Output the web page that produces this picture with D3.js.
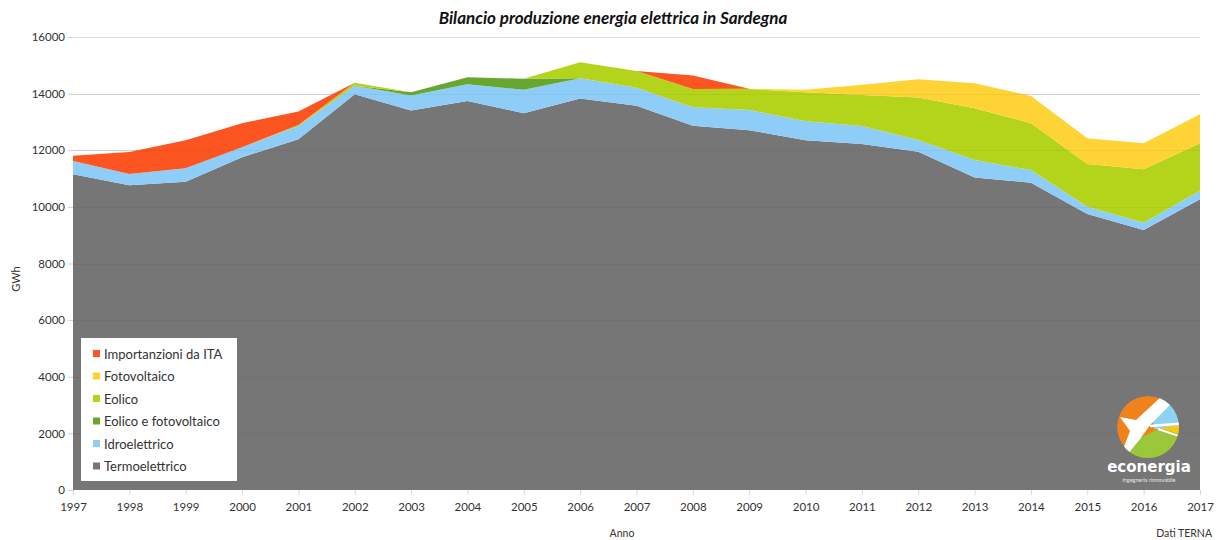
<!DOCTYPE html>
<html>
<head>
<meta charset="utf-8">
<script src="https://cdn.jsdelivr.net/npm/d3@7/dist/d3.min.js"></script>
<style>
  html, body { margin: 0; padding: 0; background: #ffffff; }
  svg { display: block; }
  text { font-family: "Lato", "DejaVu Sans", sans-serif; }
</style>
</head>
<body>
<svg id="chart" width="1216" height="540"></svg>
<script>
// Energy balance of Sardinia, GWh per year (source: TERNA)
const years = [1997, 1998, 1999, 2000, 2001, 2002, 2003, 2004, 2005, 2006, 2007,
               2008, 2009, 2010, 2011, 2012, 2013, 2014, 2015, 2016, 2017];

const termoelettrico = [11150, 10760, 10890, 11750, 12390, 13980, 13400, 13740, 13310, 13830, 13570,
                        12865, 12710, 12350, 12225, 11950, 11035, 10855, 9745, 9180, 10265];
const idroelettrico  = [470, 400, 470, 360, 470, 295, 530, 595, 825, 710, 640,
                        655, 715, 670, 635, 415, 620, 445, 260, 260, 305];
const eolicoFotovoltaico = [0, 0, 0, 0, 0, 0, 120, 240, 390, 0, 0,
                            0, 0, 0, 0, 0, 0, 0, 0, 0, 0];
const eolico         = [0, 0, 0, 0, 30, 110, 0, 0, 0, 565, 590,
                        640, 740, 1030, 1090, 1500, 1830, 1655, 1510, 1885, 1680];
const fotovoltaico   = [0, 0, 0, 0, 0, 0, 0, 0, 0, 0, 0,
                        0, 10, 85, 360, 645, 885, 965, 910, 925, 1025];
const importazioni   = [190, 780, 990, 845, 480, 0, 0, 0, 0, 0, 0,
                        480, 0, 0, 0, 0, 0, 0, 0, 0, 0];

const yTicks = [0, 2000, 4000, 6000, 8000, 10000, 12000, 14000, 16000];

// Stack order, bottom to top
const series = [
  { key: "Termoelettrico",          values: termoelettrico,     color: "#767676" },
  { key: "Idroelettrico",           values: idroelettrico,      color: "#8ecdf8" },
  { key: "Eolico e fotovoltaico",   values: eolicoFotovoltaico, color: "#67a62f" },
  { key: "Eolico",                  values: eolico,             color: "#b4d41c" },
  { key: "Fotovoltaico",            values: fotovoltaico,       color: "#fed335" },
  { key: "Importanzioni da ITA",    values: importazioni,       color: "#fd5521" }
];

const rows = years.map((y, i) => {
  const r = { year: y };
  series.forEach(s => { r[s.key] = s.values[i]; });
  return r;
});

const svg = d3.select("#chart");
const W = 1216;
const plotLeft = 73, plotRight = 1200, plotTop = 37, plotBottom = 490;

const x = d3.scaleLinear().domain([1997, 2017]).range([plotLeft, plotRight]);
const y = d3.scaleLinear().domain([0, 16000]).range([plotBottom, plotTop]);

const stacked = d3.stack().keys(series.map(s => s.key))(rows);

const area = d3.area()
  .x(d => x(d.data.year))
  .y0(d => y(d[0]))
  .y1(d => y(d[1]));

// light gridlines behind the areas
svg.append("g")
  .selectAll("line")
  .data(yTicks.filter(t => t > 0))
  .join("line")
  .attr("x1", x(1997)).attr("x2", x(2017))
  .attr("y1", d => Math.round(y(d)) + 0.5).attr("y2", d => Math.round(y(d)) + 0.5)
  .attr("stroke", "#dcdcdc").attr("stroke-width", 1);

// stacked areas
svg.append("g")
  .selectAll("path")
  .data(stacked)
  .join("path")
  .attr("d", area)
  .attr("fill", (d, i) => series[i].color);

// faint gridlines over the areas
svg.append("g")
  .selectAll("line")
  .data(yTicks.filter(t => t > 0 && t < 16000))
  .join("line")
  .attr("x1", x(1997)).attr("x2", x(2017))
  .attr("y1", d => Math.round(y(d)) + 0.5).attr("y2", d => Math.round(y(d)) + 0.5)
  .attr("stroke", "rgba(0,0,0,0.045)").attr("stroke-width", 1);

// Y axis
const yAxis = d3.axisLeft(y).tickValues(yTicks).tickSize(5).tickPadding(3).tickFormat(d3.format("d"));
const gy = svg.append("g").attr("transform", `translate(${x(1997)},0)`).call(yAxis);
gy.select(".domain").remove();
gy.selectAll(".tick line").attr("stroke", "#d0d0d0");
gy.selectAll(".tick text").attr("fill", "#333").style("font-size", "11.5px").style("font-family", "Lato, sans-serif");

// X axis
const xAxis = d3.axisBottom(x).tickValues(years).tickSize(5).tickPadding(8).tickFormat(d3.format("d"));
const gx = svg.append("g").attr("transform", `translate(0,${plotBottom})`).call(xAxis);
gx.select(".domain").remove();
gx.selectAll(".tick line").attr("stroke", "#d8d8d8");
gx.selectAll(".tick text").attr("fill", "#333").style("font-size", "11.5px").style("font-family", "Lato, sans-serif");

// Title
svg.append("text")
  .attr("x", 613).attr("y", 24)
  .attr("text-anchor", "middle")
  .style("font-size", "17px").style("font-weight", "bold").style("font-style", "italic")
  .attr("fill", "#111")
  .text("Bilancio produzione energia elettrica in Sardegna");

// Axis titles
svg.append("text")
  .attr("transform", "translate(20,279) rotate(-90)")
  .attr("text-anchor", "middle")
  .style("font-size", "11px").attr("fill", "#333")
  .text("GWh");

svg.append("text")
  .attr("x", 622).attr("y", 537)
  .attr("text-anchor", "middle")
  .style("font-size", "10.5px").attr("fill", "#333")
  .text("Anno");

svg.append("text")
  .attr("x", 1212).attr("y", 537)
  .attr("text-anchor", "end")
  .style("font-size", "10.5px").attr("fill", "#333")
  .text("Dati TERNA");

// Legend
const legend = svg.append("g").attr("transform", "translate(81,338)");
legend.append("rect").attr("width", 156).attr("height", 143).attr("fill", "#ffffff");
const legendItems = series.slice().reverse();
const li = legend.selectAll("g.item")
  .data(legendItems)
  .join("g")
  .attr("class", "item")
  .attr("transform", (d, i) => `translate(12,${16 + i * 22.5})`);
li.append("rect").attr("x", 0).attr("y", -4).attr("width", 7).attr("height", 7).attr("fill", d => d.color);
li.append("text").attr("x", 11).attr("y", 4.5)
  .style("font-size", "13px").attr("fill", "#333")
  .text(d => d.key);

// econergia logo
const defs = svg.append("defs");
defs.append("clipPath").attr("id", "logoClip").append("circle").attr("r", 31);
const logo = svg.append("g").attr("transform", "translate(1148,427)");
const lg = logo.append("g").attr("clip-path", "url(#logoClip)");
lg.append("circle").attr("r", 31).attr("fill", "#f0821d");
lg.append("path").attr("d", "M4,-10 L18,-34 L40,-34 L40,2 L6,2 Z").attr("fill", "#8ed3f4");
lg.append("path").attr("d", "M-40,32 L-22,22 L-6,10 L10,2 L40,-2 L40,40 L-40,40 Z").attr("fill", "#9bc73b");
lg.append("path").attr("d", "M12,1 L40,-3 L40,10 Z").attr("fill", "#fdc613");
lg.append("path")
  .attr("d", "M-28,-10 L-12,-7 L14,-31 L26,-26 L2,-2 L-8,12 L-20,27 L-26,25 L-18,4 Z")
  .attr("fill", "#ffffff");
lg.append("path").attr("d", "M2,-1 L40,-4").attr("stroke", "#ffffff").attr("stroke-width", 2.5).attr("fill", "none");
lg.append("path").attr("d", "M10,2 L40,12").attr("stroke", "#ffffff").attr("stroke-width", 2).attr("fill", "none");

svg.append("text")
  .attr("x", 1149).attr("y", 472)
  .attr("text-anchor", "middle")
  .style("font-size", "15px").style("font-weight", "bold").style("font-family", "'DejaVu Sans', sans-serif")
  .attr("fill", "#ffffff")
  .text("econergia");
svg.append("text")
  .attr("x", 1149).attr("y", 482)
  .attr("text-anchor", "middle")
  .style("font-size", "5.5px")
  .attr("fill", "#e6e6e6")
  .text("ingegneria rinnovabile");
</script>
</body>
</html>
